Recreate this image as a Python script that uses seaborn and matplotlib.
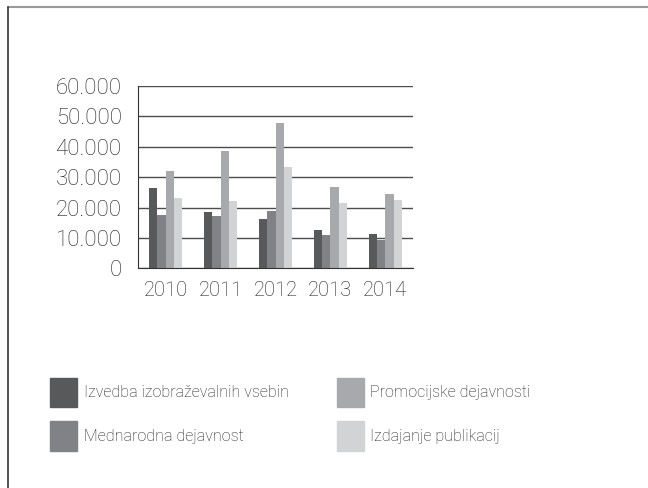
import pandas as pd
import matplotlib.pyplot as plt
import matplotlib.ticker as mticker
from matplotlib.lines import Line2D
import seaborn as sns

# Data
years = ["2010", "2011", "2012", "2013", "2014"]
series = [
    "Izvedba izobraževalnih vsebin",
    "Mednarodna dejavnost",
    "Promocijske dejavnosti",
    "Izdajanje publikacij",
]
izvedba = [26400, 18500, 16200, 12600, 11300]
mednarodna = [17500, 17200, 18800, 10900, 9300]
promocijske = [32000, 38700, 47700, 26700, 24400]
izdajanje = [23200, 22100, 33300, 21500, 22400]
colors = ["#58595b", "#808285", "#a7a9ac", "#d1d3d4"]

rows = []
for name, vals in zip(series, [izvedba, mednarodna, promocijske, izdajanje]):
    for y, v in zip(years, vals):
        rows.append({"year": y, "series": name, "value": v})
df = pd.DataFrame(rows)

sns.set_style("white")
plt.rcParams['font.family'] = ['Roboto', 'DejaVu Sans']
plt.rcParams['font.weight'] = 'light'
text_color = "#1e1e1e"

fig = plt.figure(figsize=(6.48, 4.88), dpi=100)
ax = fig.add_axes([0.2134, 0.450, 0.4236, 0.374])

sns.barplot(
    data=df, x="year", y="value", hue="series",
    palette=colors, width=0.61, gap=0, saturation=1,
    edgecolor="none", linewidth=0, ax=ax,
)

ax.set_ylim(0, 60000)
ax.set_xlim(-0.5, 4.5)
ax.yaxis.set_major_locator(mticker.MultipleLocator(10000))
ax.yaxis.set_major_formatter(
    mticker.FuncFormatter(lambda v, p: f"{int(v):,}".replace(",", "."))
)
ax.grid(axis="y", color="#4d4d4d", linewidth=1)
ax.set_axisbelow(True)

for s in ["top", "right"]:
    ax.spines[s].set_visible(False)
ax.spines["left"].set_color("#333333")
ax.spines["bottom"].set_color("#333333")

ax.set_xticks(range(5))
ax.set_xticks([i - 0.5 for i in range(6)], minor=True)
ax.tick_params(axis="x", which="major", length=0, pad=9, labelsize=14.5, labelcolor=text_color)
ax.tick_params(axis="x", which="minor", length=4, width=1, color="#333333", direction="out")
ax.tick_params(axis="y", length=0, pad=12, labelsize=16, labelcolor=text_color)
ax.set_xlabel("")
ax.set_ylabel("")

ax.legend_.remove()
handles = [plt.Rectangle((0, 0), 1, 1, color=c) for c in colors]
fig.legend(
    handles, series, ncol=2, loc="upper left",
    bbox_to_anchor=(0.065, 0.2427), frameon=False, borderpad=0,
    fontsize=11.5, handlelength=1.7, handleheight=2.5,
    handletextpad=0.4, columnspacing=3.0, labelspacing=0.85,
    labelcolor=text_color,
)

# frame lines of the original page
fig.add_artist(Line2D([7.5 / 648, 1], [1 - 7 / 488, 1 - 7 / 488],
                      transform=fig.transFigure, color="#999999", linewidth=1.5))
fig.add_artist(Line2D([7.5 / 648, 7.5 / 648], [0, 1 - 7 / 488],
                      transform=fig.transFigure, color="#333333", linewidth=1.2))

plt.savefig("out.png", dpi=100)
